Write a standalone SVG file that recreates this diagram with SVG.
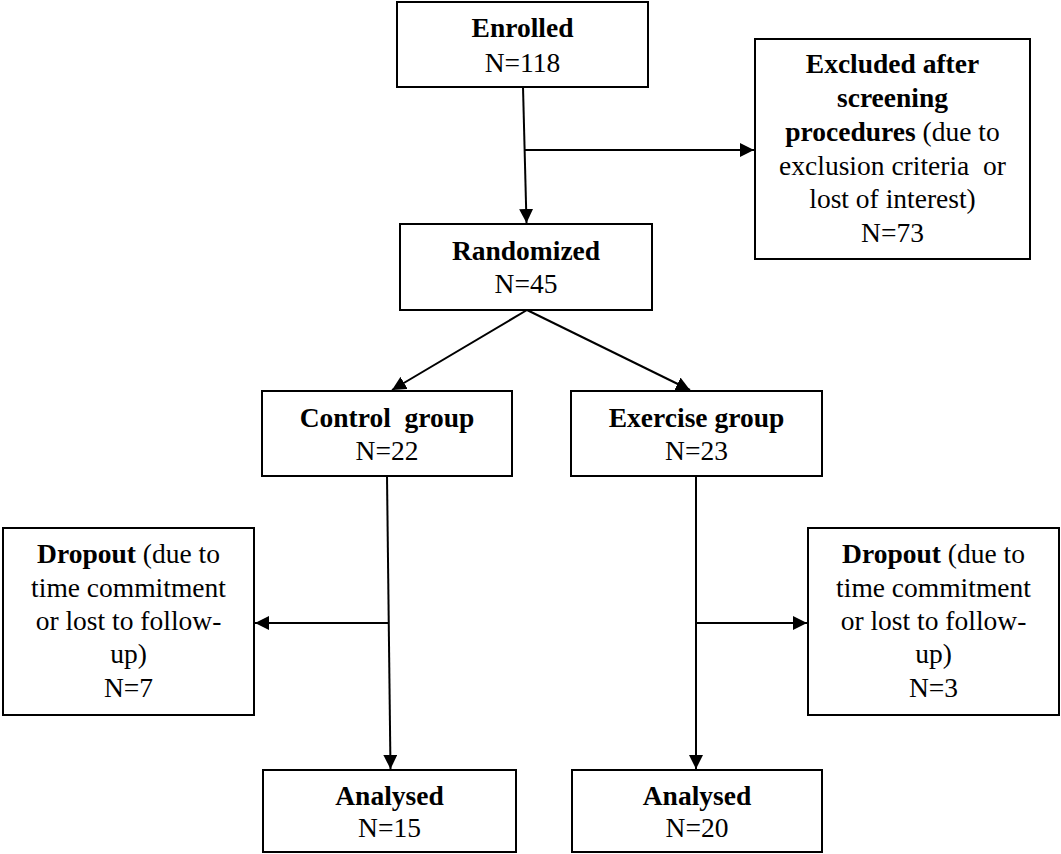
<svg xmlns="http://www.w3.org/2000/svg" width="1061" height="854" viewBox="0 0 1061 854">
<style>
.box{fill:#fff;stroke:#000;stroke-width:2}
.t{font-family:"Liberation Serif","Times New Roman",Times,serif;font-size:27.5px;fill:#000;text-anchor:middle}
.b{font-weight:bold}
.c{stroke:#000;stroke-width:2;fill:none}
</style>
<defs>
<marker id="ah" viewBox="0 0 10 10" refX="10" refY="5" markerWidth="7" markerHeight="7" orient="auto" markerUnits="strokeWidth">
<path d="M0,0 L10,5 L0,10 z" fill="#000"/>
</marker>
</defs>
<rect width="1061" height="854" fill="#fff"/>
<g id="connectors">
<path class="c" d="M523,87 L526.5,223" marker-end="url(#ah)"/>
<path class="c" d="M524.5,150 L754,150" marker-end="url(#ah)"/>
<path class="c" d="M527,310 L392,390" marker-end="url(#ah)"/>
<path class="c" d="M527,310 L690,390" marker-end="url(#ah)"/>
<path class="c" d="M387,476 L390.5,769" marker-end="url(#ah)"/>
<path class="c" d="M696,476 L696,769" marker-end="url(#ah)"/>
<path class="c" d="M388,623 L255,623" marker-end="url(#ah)"/>
<path class="c" d="M696,623 L807,623" marker-end="url(#ah)"/>
</g>
<g id="enrolled">
<rect class="box" x="397" y="2" width="251" height="85"/>
<text class="t b" x="522.5" y="37">Enrolled</text>
<text class="t" x="522.5" y="72">N=118</text>
</g>
<g id="excluded">
<rect class="box" x="755" y="39" width="275" height="220"/>
<text class="t b" x="892.5" y="73">Excluded after</text>
<text class="t b" x="892.5" y="107">screening</text>
<text class="t" x="892.5" y="141"><tspan class="b">procedures</tspan> (due to</text>
<text class="t" x="892.5" y="175" xml:space="preserve">exclusion criteria  or</text>
<text class="t" x="892.5" y="208">lost of interest)</text>
<text class="t" x="892.5" y="242">N=73</text>
</g>
<g id="randomized">
<rect class="box" x="400" y="224" width="252" height="86"/>
<text class="t b" x="526" y="260">Randomized</text>
<text class="t" x="526" y="293">N=45</text>
</g>
<g id="control">
<rect class="box" x="262" y="391" width="250" height="85"/>
<text class="t b" x="387" y="427" xml:space="preserve">Control  group</text>
<text class="t" x="387" y="460">N=22</text>
</g>
<g id="exercise">
<rect class="box" x="571" y="391" width="251" height="85"/>
<text class="t b" x="696.5" y="427">Exercise group</text>
<text class="t" x="696.5" y="460">N=23</text>
</g>
<g id="dropout-control">
<rect class="box" x="3" y="528" width="251" height="187"/>
<text class="t" x="128.5" y="563"><tspan class="b">Dropout</tspan> (due to</text>
<text class="t" x="128.5" y="597">time commitment</text>
<text class="t" x="128.5" y="630">or lost to follow-</text>
<text class="t" x="128.5" y="663">up)</text>
<text class="t" x="128.5" y="697">N=7</text>
</g>
<g id="dropout-exercise">
<rect class="box" x="808" y="528" width="251" height="187"/>
<text class="t" x="933.5" y="563"><tspan class="b">Dropout</tspan> (due to</text>
<text class="t" x="933.5" y="597">time commitment</text>
<text class="t" x="933.5" y="630">or lost to follow-</text>
<text class="t" x="933.5" y="663">up)</text>
<text class="t" x="933.5" y="697">N=3</text>
</g>
<g id="analysed-control">
<rect class="box" x="263" y="770" width="253" height="82"/>
<text class="t b" x="389.5" y="805">Analysed</text>
<text class="t" x="389.5" y="837">N=15</text>
</g>
<g id="analysed-exercise">
<rect class="box" x="572" y="770" width="250" height="82"/>
<text class="t b" x="697" y="805">Analysed</text>
<text class="t" x="697" y="837">N=20</text>
</g>
</svg>
